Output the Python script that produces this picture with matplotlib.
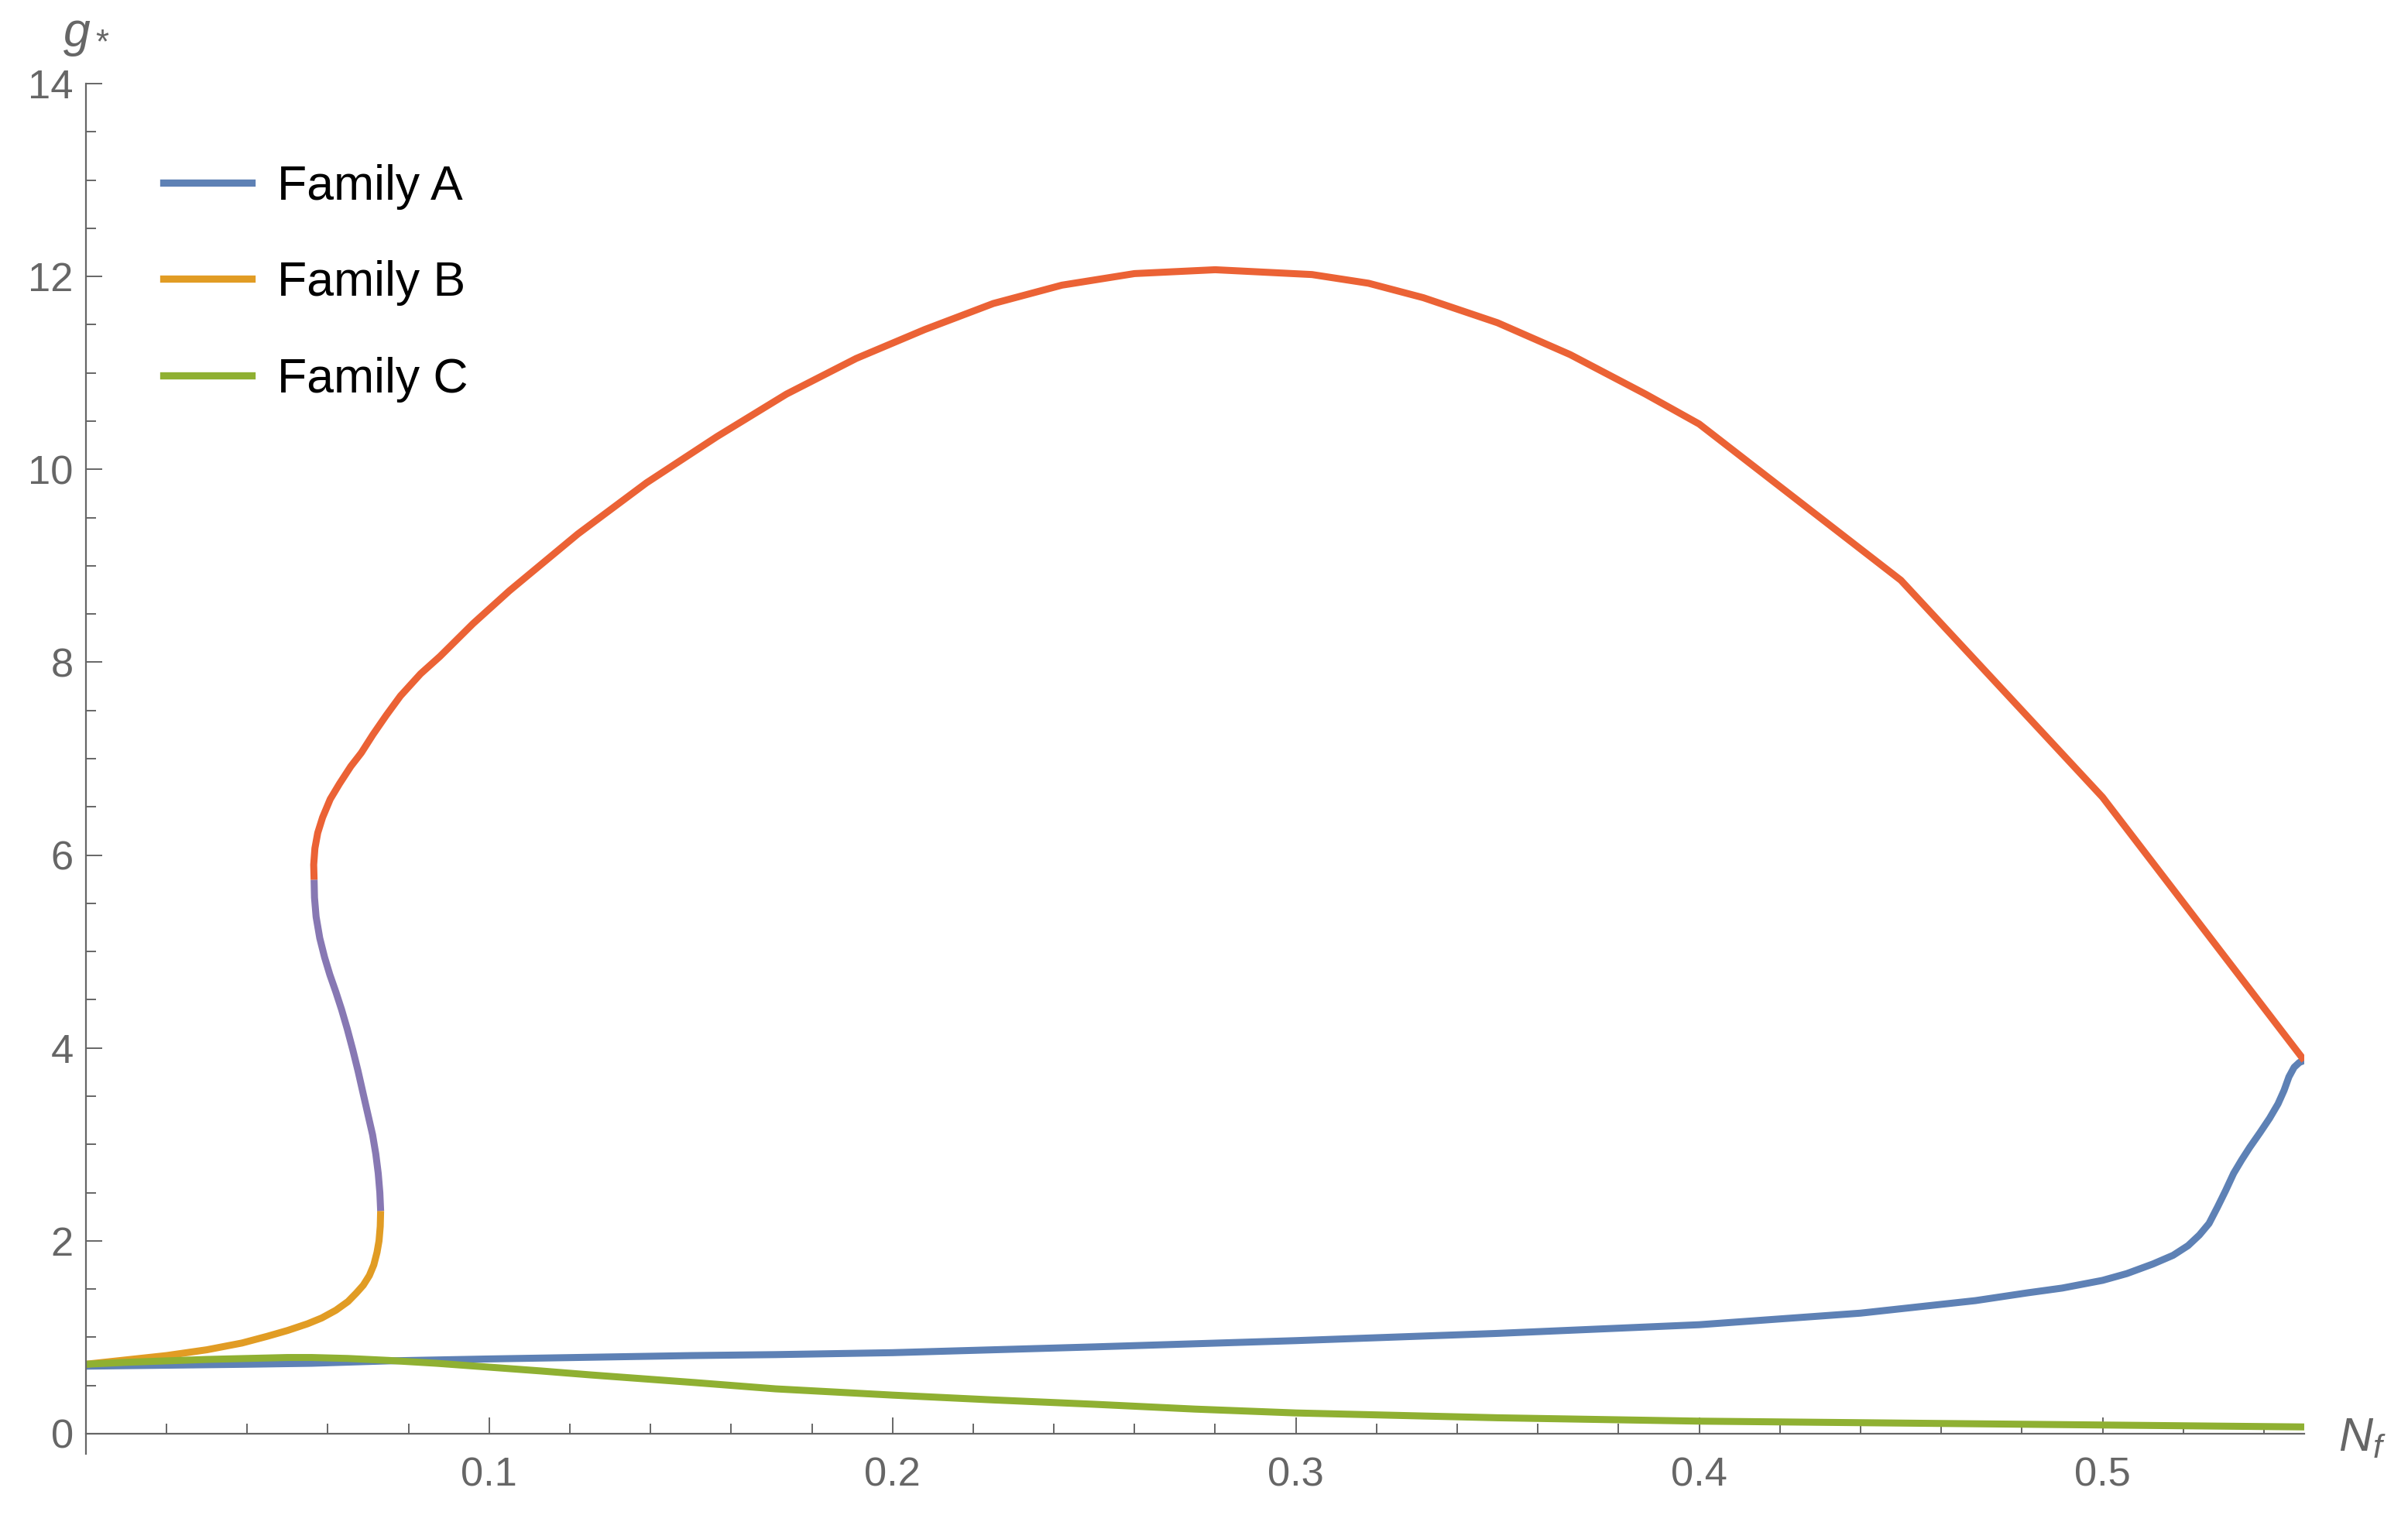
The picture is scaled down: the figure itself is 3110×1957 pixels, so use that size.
import numpy as np
import matplotlib
matplotlib.use("Agg")
import matplotlib.pyplot as plt
from matplotlib.lines import Line2D

plt.rcParams['font.family'] = ['Liberation Sans', 'DejaVu Sans']
plt.rcParams['mathtext.fontset'] = 'custom'
plt.rcParams['mathtext.rm'] = 'Liberation Sans'
plt.rcParams['mathtext.it'] = 'Liberation Sans:italic'

# ---------------- data ----------------
legend_labels = ["Family A", "Family B", "Family C"]

# Family A (blue)
blue_x = [0, 0.02, 0.04, 0.056, 0.075, 0.1, 0.15, 0.171, 0.2, 0.25, 0.3, 0.35,
          0.4, 0.44, 0.4685, 0.4813, 0.49, 0.5, 0.506, 0.5125, 0.5175, 0.5212,
          0.524, 0.5264, 0.5285, 0.5305, 0.5325, 0.5345, 0.5365, 0.539, 0.5414,
          0.5435, 0.545, 0.5462, 0.5475, 0.5488, 0.55]
blue_y = [0.70, 0.71, 0.72, 0.73, 0.755, 0.775, 0.81, 0.82, 0.84, 0.90, 0.965, 1.04,
          1.13, 1.25, 1.38, 1.46, 1.51, 1.59, 1.66, 1.76, 1.85, 1.95,
          2.06, 2.18, 2.35, 2.52, 2.70, 2.84, 2.97, 3.12, 3.27,
          3.42, 3.56, 3.70, 3.80, 3.85, 3.87]

# Family B (orange)
orange_x = [0, 0.01, 0.02, 0.03, 0.0387, 0.045, 0.05, 0.055, 0.0585, 0.062, 0.065,
            0.0671, 0.0688, 0.0703, 0.0714, 0.0722, 0.0727, 0.0730, 0.0731]
orange_y = [0.72, 0.765, 0.81, 0.87, 0.94, 1.01, 1.07, 1.14, 1.20, 1.28, 1.37,
            1.46, 1.54, 1.64, 1.75, 1.88, 2.00, 2.15, 2.31]

# Family C (green)
green_x = [0, 0.01, 0.02, 0.03, 0.04, 0.05, 0.056, 0.065, 0.075, 0.087, 0.1, 0.113,
           0.125, 0.138, 0.151, 0.171, 0.2, 0.225, 0.25, 0.275, 0.3, 0.35, 0.4,
           0.45, 0.5, 0.55]
green_y = [0.72, 0.74, 0.755, 0.77, 0.78, 0.79, 0.79, 0.78, 0.76, 0.73, 0.69, 0.65,
           0.61, 0.57, 0.53, 0.465, 0.40, 0.35, 0.305, 0.255, 0.215, 0.165, 0.13,
           0.11, 0.09, 0.07]

# middle branch (purple)
purple_x = [0.0731, 0.0729, 0.0725, 0.0719, 0.0711, 0.0700, 0.0688, 0.0675, 0.0662,
            0.0648, 0.0634, 0.0620, 0.0605, 0.0592, 0.0580, 0.0571, 0.0567, 0.0566]
purple_y = [2.31, 2.50, 2.70, 2.90, 3.10, 3.30, 3.52, 3.76, 3.98,
            4.20, 4.40, 4.58, 4.76, 4.94, 5.14, 5.36, 5.56, 5.745]

# upper branch (red)
red_x = [0.0566, 0.0565, 0.0568, 0.0575, 0.0587, 0.0606, 0.0629, 0.0657, 0.0683,
         0.0712, 0.0745, 0.078, 0.083, 0.0878, 0.096, 0.105, 0.122, 0.139, 0.1565,
         0.1737, 0.191, 0.208, 0.225, 0.242, 0.26, 0.28, 0.304, 0.318, 0.3316,
         0.35, 0.368, 0.3867, 0.4, 0.45, 0.5, 0.55]
red_y = [5.745, 5.90, 6.07, 6.23, 6.39, 6.58, 6.74, 6.92, 7.06,
         7.25, 7.45, 7.65, 7.88, 8.06, 8.40, 8.74, 9.33, 9.86, 10.34,
         10.78, 11.15, 11.45, 11.72, 11.91, 12.03, 12.07, 12.02, 11.93, 11.78,
         11.52, 11.19, 10.78, 10.47, 8.85, 6.60, 3.87]

x_major = [0.1, 0.2, 0.3, 0.4, 0.5]
x_major_labels = ["0.1", "0.2", "0.3", "0.4", "0.5"]
y_major = [0, 2, 4, 6, 8, 10, 12, 14]
y_major_labels = ["0", "2", "4", "6", "8", "10", "12", "14"]

# ---------------- style ----------------
C_BLUE = "#5E81B5"
C_ORANGE = "#E19C24"
C_GREEN = "#8FB032"
C_RED = "#EB6235"
C_PURPLE = "#8778B3"
GRAY = "#666666"

W, H, DPI = 3110, 1957, 200
fig = plt.figure(figsize=(W / DPI, H / DPI), dpi=DPI)
ax = fig.add_axes([0.03563, 0.04037, 0.92128, 0.90444])

LW = 3.25
kw = dict(lw=LW, solid_joinstyle='round', solid_capstyle='butt')
ax.plot(blue_x, blue_y, color=C_BLUE, **kw)
ax.plot(orange_x, orange_y, color=C_ORANGE, **kw)
ax.plot(green_x, green_y, color=C_GREEN, **kw)
ax.plot(purple_x, purple_y, color=C_PURPLE, **kw)
ax.plot(red_x, red_y, color=C_RED, **kw)

ax.set_xlim(0, 0.55)
ax.set_ylim(-0.209, 14)

for s in ('top', 'right'):
    ax.spines[s].set_visible(False)
ax.spines['bottom'].set_position(('data', 0))
for s in ('left', 'bottom'):
    ax.spines[s].set_color(GRAY)
    ax.spines[s].set_linewidth(0.8)

ax.set_xticks(x_major)
ax.set_xticklabels(x_major_labels)
ax.set_xticks([v / 100 for v in range(2, 56, 2) if v % 10 != 0], minor=True)
ax.set_yticks(y_major)
ax.set_yticklabels(y_major_labels)
ax.set_yticks([v / 2 for v in range(1, 28) if v % 4 != 0], minor=True)

ax.tick_params(which='both', direction='in', color=GRAY, width=0.7,
               labelcolor=GRAY, labelsize=18.9)
ax.tick_params(which='major', length=7.6)
ax.tick_params(which='minor', length=4.7)
ax.tick_params(axis='y', which='major', pad=5.8)
ax.tick_params(axis='x', which='major', pad=10.5)

ax.annotate(r'$g_*$', xy=(0, 14), xycoords='data', xytext=(0, 17.3),
            textcoords='offset points', ha='center', va='baseline',
            fontsize=22.5, color=GRAY, annotation_clip=False)
ax.annotate(r'$N_f$', xy=(0.55, 0), xycoords='data', xytext=(15.8, -7.9),
            textcoords='offset points', ha='left', va='baseline',
            fontsize=22, color=GRAY, annotation_clip=False)

handles = [Line2D([], [], color=c, lw=3.35) for c in (C_BLUE, C_ORANGE, C_GREEN)]
ax.legend(handles, legend_labels, loc='upper left', bbox_to_anchor=(0.035, 0.9415),
          frameon=False, fontsize=22.5, handlelength=1.82, handletextpad=0.53,
          labelspacing=1.05, borderpad=0, borderaxespad=0)

fig.savefig("out.png", dpi=DPI)
